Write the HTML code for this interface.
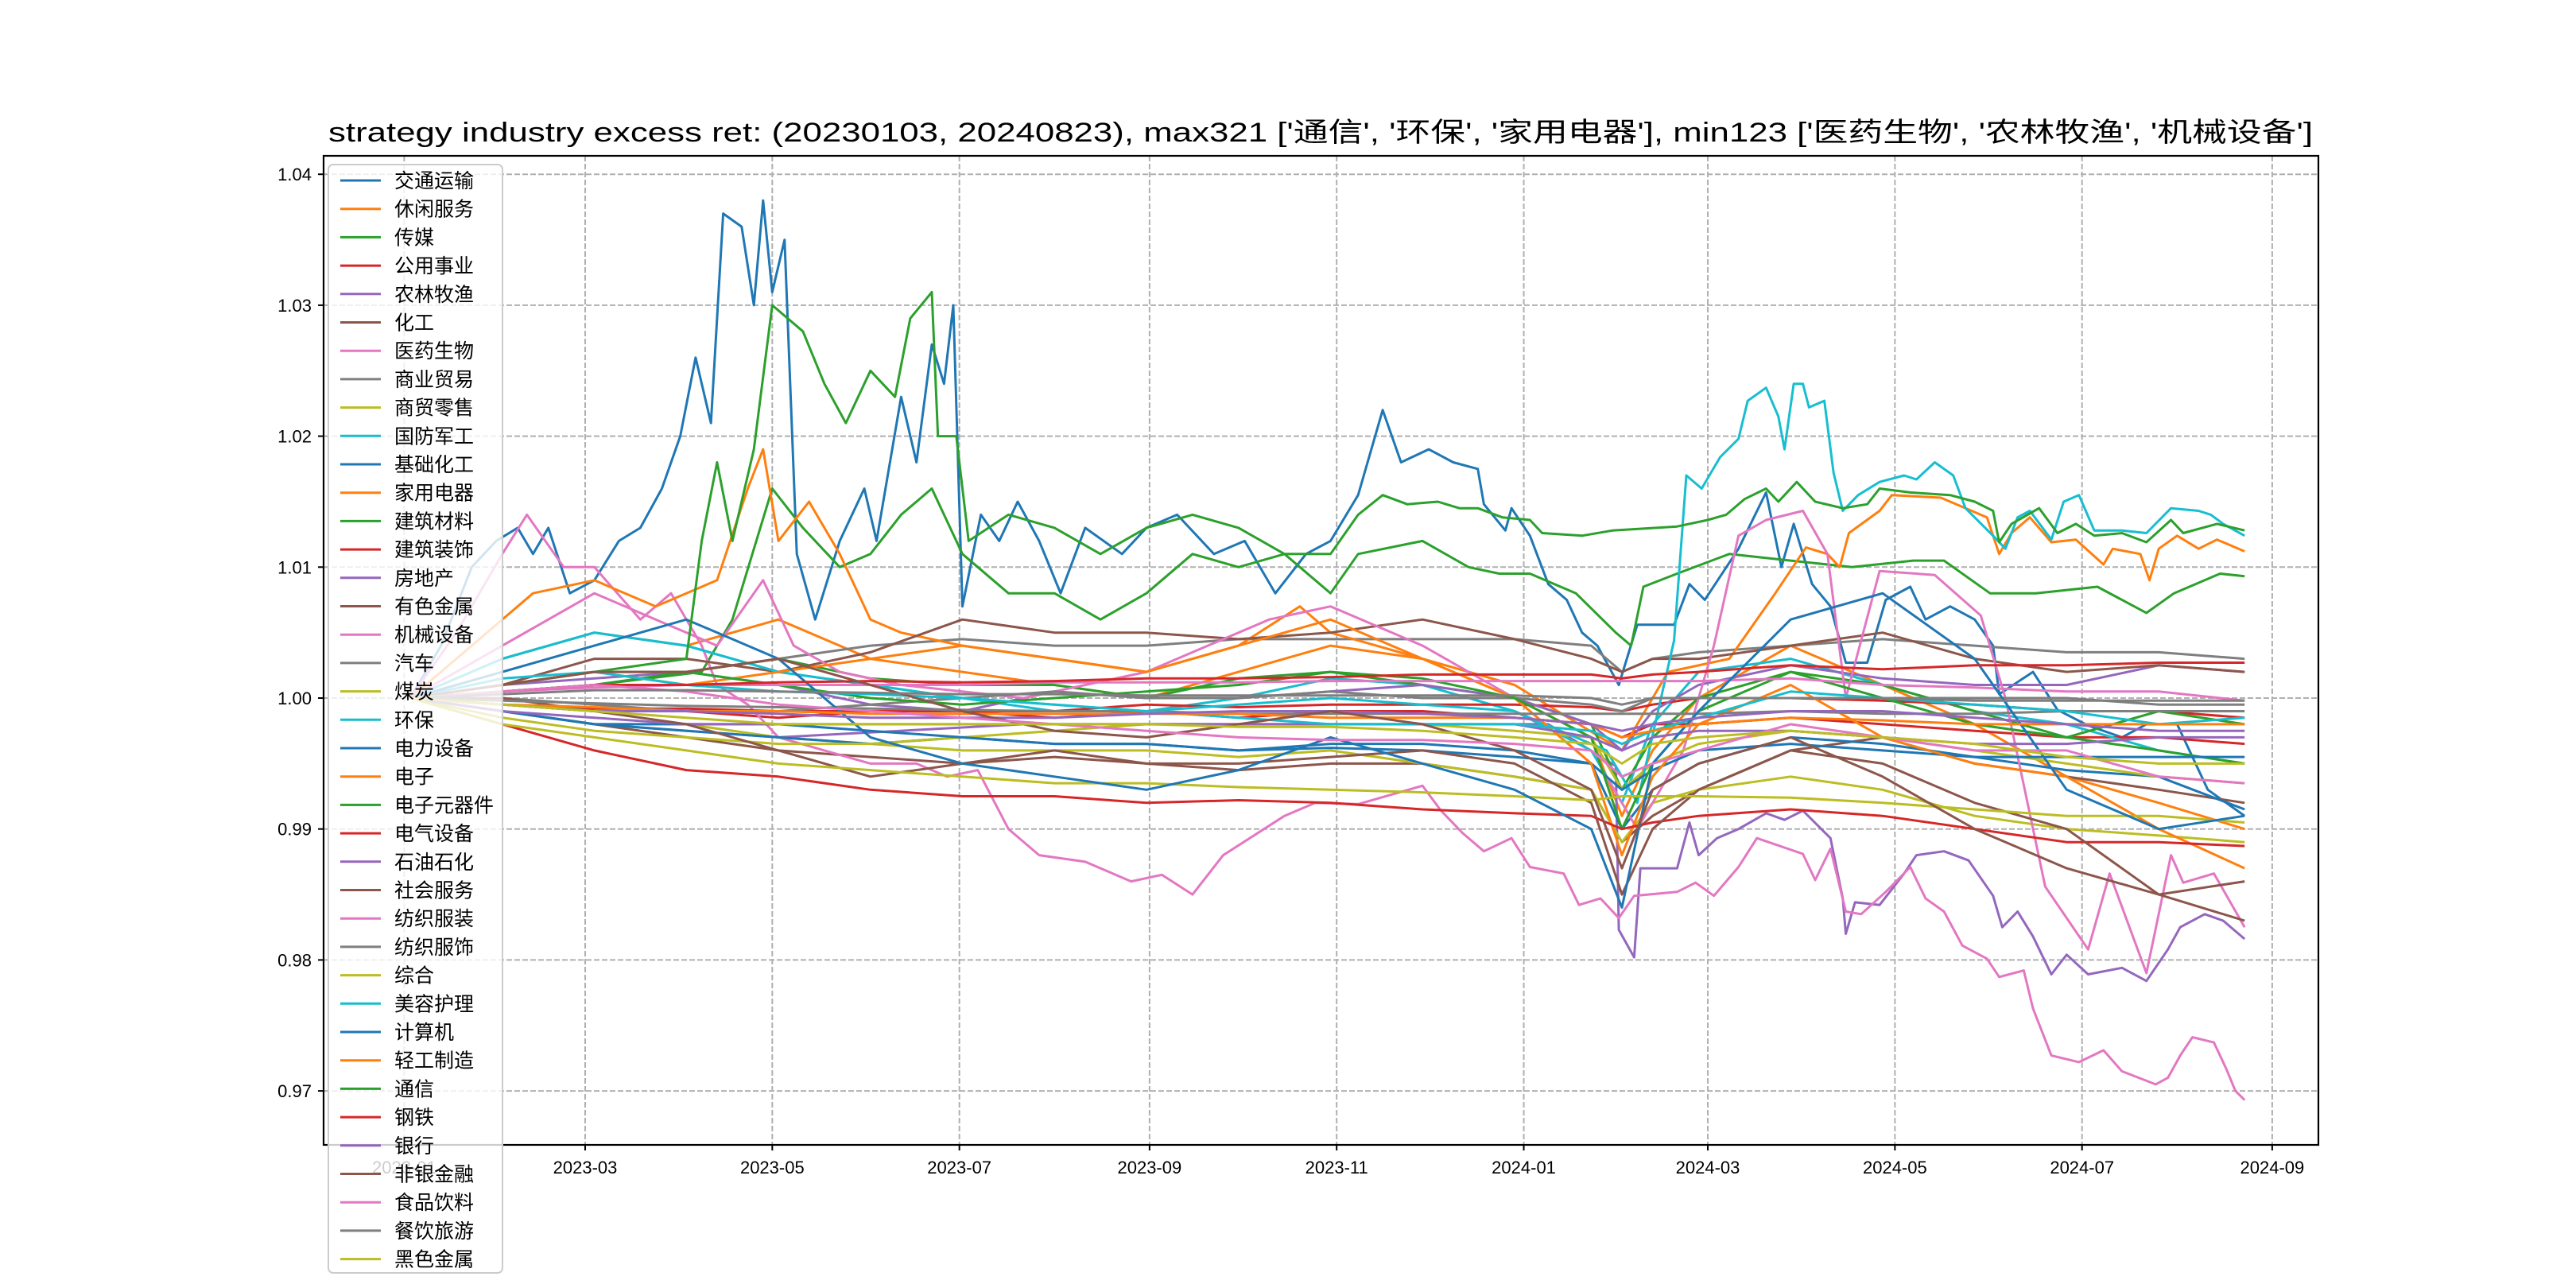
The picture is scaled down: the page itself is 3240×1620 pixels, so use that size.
<!DOCTYPE html>
<html><head><meta charset="utf-8"><style>
html,body{margin:0;padding:0;background:#fff}
svg{display:block}
text{font-family:"Liberation Sans","Noto Sans CJK SC",sans-serif}
</style></head><body>
<svg id="chart" width="3240" height="1620" viewBox="0 0 3240 1620" xmlns="http://www.w3.org/2000/svg">
<rect width="3240" height="1620" fill="#fff"/>
<text x="1661" y="178" text-anchor="middle" font-size="34" textLength="2496" lengthAdjust="spacingAndGlyphs">strategy industry excess ret: (20230103, 20240823), max321 ['通信', '环保', '家用电器'], min123 ['医药生物', '农林牧渔', '机械设备']</text>
<g id="grid"></g>
<g id="series"></g>
<rect x="407" y="196" width="2509" height="1244" fill="none" stroke="#000" stroke-width="2.2"/>
<g id="axes"></g>
<g id="legend"></g>
</svg>
<script>
const names = ['交通运输','休闲服务','传媒','公用事业','农林牧渔','化工','医药生物','商业贸易','商贸零售','国防军工','基础化工','家用电器','建筑材料','建筑装饰','房地产','有色金属','机械设备','汽车','煤炭','环保','电力设备','电子','电子元器件','电气设备','石油石化','社会服务','纺织服装','纺织服饰','综合','美容护理','计算机','轻工制造','通信','钢铁','银行','非银金融','食品饮料','餐饮旅游','黑色金属'];
const colors = ['#1f77b4','#ff7f0e','#2ca02c','#d62728','#9467bd','#8c564b','#e377c2','#7f7f7f','#bcbd22','#17becf'];
const yTicks = [0.97,0.98,0.99,1.00,1.01,1.02,1.03,1.04];
const xTickLabels = ['2023-01','2023-03','2023-05','2023-07','2023-09','2023-11','2024-01','2024-03','2024-05','2024-07','2024-09'];
const xTickDays = [-2,57,118,179,241,302,363,423,484,545,607];
// shared coarse grid (days since 2023-01-03)
const coarseDays = [0,30,60,90,120,150,180,210,240,270,300,330,360,385,395,405,420,450,480,510,540,570,598];
// detailed series: day arrays + value arrays
const days0 = [0,10,20,28,35,40,45,52,60,68,75,82,88,93,98,102,108,112,115,118,122,126,132,140,148,152,160,165,170,174,177,180,186,192,198,205,212,220,232,240,250,262,272,282,292,300,309,317,323,332,340,348,350,357,359,365,371,377,382,387,394,400,412,417,422,433,442,447,451,457,463,468,475,481,489,494,502,510,516,518,529,537,547,558,566,576,586,598];
const vals0 = [1,1.004,1.01,1.012,1.013,1.011,1.013,1.008,1.009,1.012,1.013,1.016,1.02,1.026,1.021,1.037,1.036,1.03,1.038,1.031,1.035,1.011,1.006,1.012,1.016,1.012,1.023,1.018,1.027,1.024,1.030,1.007,1.014,1.012,1.015,1.012,1.008,1.013,1.011,1.013,1.014,1.011,1.012,1.008,1.011,1.012,1.0155,1.022,1.018,1.019,1.018,1.0175,1.0148,1.0128,1.0145,1.0124,1.0087,1.0075,1.005,1.004,1.001,1.0056,1.0056,1.0087,1.0075,1.0114,1.0157,1.01,1.0133,1.0087,1.007,1.0027,1.0027,1.0075,1.0085,1.006,1.007,1.006,1.004,1.0003,1.002,0.9991,0.9979,0.997,0.998,0.998,0.993,0.991];
const days2 = [0,60,95,105,118,128,140,150,160,170,180,195,210,225,240,255,270,285,300,309,330,345,355,365,380,393,398,402,413,430,450,470,490,500,515,530,550,566,575,590,598];
const vals2 = [1,1.001,1.002,1.006,1.016,1.013,1.01,1.011,1.014,1.016,1.011,1.008,1.008,1.006,1.008,1.011,1.010,1.011,1.008,1.011,1.012,1.010,1.0095,1.0095,1.008,1.005,1.004,1.0085,1.0095,1.011,1.0105,1.010,1.0105,1.0105,1.008,1.008,1.0085,1.0065,1.008,1.0095,1.0093];
const days4 = [0,60,120,200,309,371,393,394,399,401,413,417,420,426,433,442,448,454,463,467,468,471,479,487,491,500,508,516,519,524,529,535,540,547,558,566,573,577,585,591,598];
const vals4 = [1,0.998,0.997,0.998,0.998,0.998,0.9948,0.9823,0.9802,0.987,0.987,0.9905,0.988,0.9893,0.99,0.9912,0.9907,0.9914,0.9893,0.9847,0.982,0.9844,0.9842,0.9866,0.988,0.9883,0.9876,0.9849,0.9825,0.9837,0.9818,0.9789,0.9804,0.9789,0.9794,0.9784,0.9808,0.9825,0.9835,0.983,0.9816];
const days6 = [0,15,30,38,50,60,75,85,95,100,110,120,135,150,165,175,185,195,205,220,235,245,255,265,285,295,309,330,336,343,350,359,365,376,381,388,394,399,413,419,425,433,439,454,458,463,468,473,481,489,494,500,506,514,518,526,529,535,544,552,558,569,573,577,581,588,592,595,598];
const vals6 = [1,1.005,1.011,1.014,1.01,1.01,1.006,1.008,1.004,1.001,0.9995,0.997,0.996,0.995,0.995,0.994,0.9945,0.990,0.988,0.9875,0.986,0.9865,0.985,0.988,0.991,0.992,0.9919,0.9933,0.9914,0.9897,0.9883,0.9893,0.9871,0.9866,0.9842,0.9847,0.9832,0.9849,0.9852,0.9859,0.9849,0.9871,0.9893,0.9881,0.9861,0.9885,0.9837,0.9835,0.9852,0.9871,0.9847,0.9837,0.9811,0.9801,0.9787,0.9792,0.9763,0.9727,0.9722,0.9731,0.9715,0.9705,0.9710,0.9727,0.9741,0.9737,0.9717,0.9700,0.9693];
const days11 = [0,20,40,60,80,100,110,115,120,130,140,150,160,180,210,240,270,290,300,330,360,395,410,430,445,455,462,466,469,479,483,499,514,518,522,528,535,543,552,555,564,567,570,576,583,589,598];
const vals11 = [1,1.004,1.008,1.009,1.007,1.009,1.016,1.019,1.012,1.015,1.011,1.006,1.005,1.004,1.003,1.002,1.004,1.007,1.005,1.003,1.001,0.996,1.002,1.003,1.008,1.0115,1.011,1.01,1.0126,1.0143,1.0155,1.0153,1.0138,1.011,1.0126,1.0138,1.0119,1.0121,1.0102,1.0114,1.011,1.009,1.0114,1.0124,1.0114,1.0121,1.0112];
const days16 = [0,30,60,80,100,115,125,140,160,200,240,280,300,330,360,390,400,415,425,433,442,454,462,468,479,497,512,520,533,547,554,566,574,578,588,598];
const vals16 = [1,1.004,1.008,1.006,1.004,1.009,1.004,1.002,1.001,1.0,1.002,1.006,1.007,1.004,1.0,0.994,0.99,0.996,1.004,1.0124,1.0136,1.0143,1.011,1.0,1.0097,1.0094,1.0063,1.0,0.9856,0.9808,0.9866,0.979,0.988,0.9859,0.9866,0.9825];
const days19 = [0,30,60,90,120,150,180,240,300,360,390,400,412,416,421,427,433,436,442,446,448,451,454,456,461,464,467,472,479,487,491,497,503,507,516,520,524,528,535,539,544,549,558,566,574,583,587,591,598];
const vals19 = [1,1.003,1.005,1.004,1.002,1.001,1.0,0.999,1.0,0.999,0.996,0.992,1.0044,1.017,1.016,1.0184,1.0198,1.0227,1.0237,1.0215,1.019,1.024,1.024,1.0222,1.0227,1.0172,1.0143,1.0155,1.0165,1.017,1.0167,1.018,1.017,1.0145,1.0124,1.0114,1.0138,1.0143,1.0121,1.015,1.0155,1.0128,1.0128,1.0126,1.0145,1.0143,1.014,1.0133,1.0124];
const days32 = [0,60,90,95,100,105,112,118,128,135,142,150,158,163,170,172,178,182,195,210,225,240,255,270,285,300,309,317,325,335,342,348,356,365,369,382,392,413,423,429,435,442,446,452,458,467,475,479,489,502,510,516,518,522,531,537,543,549,558,566,574,578,589,598];
const vals32 = [1,1.002,1.003,1.012,1.018,1.012,1.019,1.030,1.028,1.024,1.021,1.025,1.023,1.029,1.031,1.020,1.020,1.012,1.014,1.013,1.011,1.013,1.014,1.013,1.011,1.011,1.014,1.0155,1.0148,1.015,1.0145,1.0145,1.0138,1.0136,1.0126,1.0124,1.0128,1.0131,1.0136,1.014,1.0152,1.016,1.015,1.0165,1.015,1.0145,1.0148,1.016,1.0157,1.0155,1.015,1.0143,1.0119,1.0133,1.0145,1.0126,1.0133,1.0124,1.0126,1.0119,1.0136,1.0126,1.0133,1.0128];
// coarse series values (on coarseDays)
const vals1  = [1,1.003,1.005,1.004,1.006,1.003,1.002,1.001,1.0,1.002,1.004,1.003,1.0,0.997,0.991,0.996,1.0,1.004,1.001,0.998,0.994,0.992,0.990];
const vals3  = [1,0.9995,0.999,0.999,0.9985,0.999,0.999,0.9985,0.999,0.9985,0.999,0.999,0.9985,0.998,0.997,0.998,0.998,0.9985,0.998,0.9975,0.997,0.997,0.9965];
const vals5  = [1,0.999,0.998,0.997,0.996,0.9955,0.995,0.9955,0.995,0.9945,0.995,0.995,0.994,0.993,0.989,0.991,0.993,0.996,0.997,0.995,0.994,0.993,0.992];
const vals7  = [1,1.0005,1.001,1.002,1.003,1.004,1.0045,1.004,1.004,1.0045,1.0045,1.0045,1.0045,1.004,1.002,1.003,1.0035,1.004,1.0045,1.004,1.0035,1.0035,1.003];
const vals8  = [1,0.999,0.998,0.998,0.997,0.9965,0.996,0.996,0.996,0.9955,0.996,0.995,0.994,0.993,0.989,0.992,0.993,0.994,0.993,0.991,0.990,0.9895,0.989];
const vals9  = [1,1.003,1.005,1.004,1.002,1.001,1.0,0.999,0.999,1.0,1.0015,1.001,0.999,0.996,0.992,0.998,1.002,1.003,1.001,0.999,0.998,0.996,0.995];
const vals10 = [1,0.999,0.998,0.9975,0.997,0.9965,0.997,0.9965,0.9965,0.996,0.9965,0.9965,0.996,0.995,0.990,0.993,0.995,0.997,0.9965,0.9955,0.9945,0.994,0.9915];
const vals12 = [1,1.001,1.002,1.002,1.003,1.0015,1.001,1.001,1.0,1.0015,1.002,1.001,1.0,0.998,0.993,0.997,1.0,1.002,1.001,0.999,0.997,0.996,0.995];
const vals13 = [1,0.9995,0.9992,0.9992,0.999,0.999,0.999,0.999,0.9995,0.9993,0.9995,0.9995,0.9995,0.9993,0.999,0.9995,1.0,1.0,0.9998,0.9995,0.999,0.999,0.9985];
const vals14 = [1,1.001,1.0015,1.002,1.001,0.9995,0.999,1.0005,1.0,1.0,1.0005,1.001,1.0,0.998,0.996,0.999,1.001,1.0025,1.0015,1.001,1.001,1.0025,1.002];
const vals15 = [1,1.001,1.003,1.003,1.002,1.0035,1.006,1.005,1.005,1.0045,1.005,1.006,1.0045,1.003,1.002,1.003,1.003,1.004,1.005,1.003,1.002,1.0025,1.002];
const vals17 = [1,1.0,0.9995,0.999,0.999,0.9995,1.0,1.0005,1.0,1.0,1.0005,1.0,1.0,0.9995,0.999,1.0,1.0,1.0,1.0,1.0,1.0,0.9995,0.9995];
const vals18 = [1,0.9985,0.9975,0.997,0.9965,0.9965,0.997,0.9975,0.998,0.998,0.998,0.998,0.9975,0.997,0.993,0.995,0.9965,0.9975,0.997,0.996,0.995,0.994,0.9935];
const vals20 = [1,0.999,0.998,0.998,0.998,0.9975,0.997,0.9965,0.9965,0.996,0.9962,0.996,0.9955,0.995,0.993,0.9945,0.996,0.9965,0.996,0.9955,0.9955,0.9955,0.9955];
const vals21 = [1,1.001,1.002,1.001,1.002,1.003,1.004,1.003,1.002,1.004,1.006,1.003,1.0,0.995,0.988,0.994,0.998,1.001,0.997,0.995,0.994,0.990,0.987];
const vals22 = [1,1.0005,1.001,1.002,1.001,1.0,0.9995,1.0,1.0005,1.001,1.002,1.0015,1.0,0.997,0.990,0.995,0.999,1.002,1.0,0.998,0.997,0.999,0.998];
const vals23 = [1,0.998,0.996,0.9945,0.994,0.993,0.9925,0.9925,0.992,0.9922,0.992,0.9915,0.9912,0.991,0.990,0.9905,0.991,0.9915,0.991,0.990,0.989,0.989,0.9887];
const vals24 = [1,0.999,0.9985,0.998,0.998,0.998,0.998,0.998,0.998,0.998,0.998,0.998,0.998,0.997,0.996,0.997,0.9975,0.9975,0.997,0.9965,0.9965,0.997,0.997];
const vals25 = [1,1.0,0.999,0.998,0.996,0.994,0.995,0.996,0.995,0.995,0.9955,0.996,0.995,0.992,0.985,0.990,0.993,0.996,0.995,0.992,0.99,0.985,0.986];
const vals26 = [1,1.0005,1.0008,1.001,1.001,1.001,1.001,1.0012,1.0012,1.0012,1.0013,1.0013,1.0013,1.0013,1.0013,1.0013,1.0013,1.0015,1.001,1.0008,1.0005,1.0005,0.9998];
const vals27 = [1,0.9998,0.9996,0.9994,0.9993,0.9992,0.9991,0.999,0.999,0.9988,0.9988,0.9988,0.9988,0.9988,0.9988,0.9988,0.9988,0.999,0.9988,0.9988,0.999,0.999,0.999];
const vals28 = [1,0.998,0.997,0.996,0.995,0.9945,0.994,0.9935,0.9935,0.9932,0.993,0.9928,0.9925,0.9922,0.9925,0.9925,0.9925,0.9924,0.992,0.9915,0.991,0.991,0.9905];
const vals29 = [1,1.0015,1.002,1.001,1.0005,1.0003,1.0,0.9995,0.999,0.9985,0.998,0.998,0.998,0.9975,0.9965,0.9975,0.9985,1.0005,1.0,0.9995,0.999,0.998,0.9985];
const vals30 = [1,1.002,1.004,1.006,1.003,0.997,0.995,0.994,0.993,0.9945,0.997,0.995,0.993,0.990,0.984,0.995,0.999,1.006,1.008,1.003,0.993,0.990,0.991];
const vals31 = [1,0.9995,0.9993,0.999,0.999,0.9988,0.9988,0.9988,0.9988,0.9988,0.9985,0.9985,0.9985,0.998,0.997,0.9975,0.998,0.9985,0.9983,0.998,0.998,0.998,0.998];
const vals33 = [1,1.0005,1.001,1.001,1.0012,1.0013,1.0012,1.0013,1.0015,1.0015,1.0016,1.0018,1.0018,1.0018,1.0015,1.0018,1.002,1.0025,1.0022,1.0025,1.0025,1.0027,1.0027];
const vals34 = [1,0.9995,0.999,0.999,0.9988,0.9985,0.9985,0.9985,0.9988,0.999,0.999,0.9988,0.9985,0.998,0.9975,0.998,0.9985,0.999,0.999,0.9985,0.998,0.9975,0.9975];
const vals35 = [1,1.001,1.002,1.002,1.003,1.001,0.999,0.9975,0.997,0.998,0.999,0.998,0.996,0.993,0.987,0.993,0.995,0.997,0.994,0.990,0.987,0.985,0.983];
const vals36 = [1,1.0005,1.001,1.0005,0.9995,0.999,0.9985,0.998,0.9975,0.997,0.9968,0.9968,0.9965,0.996,0.994,0.995,0.996,0.998,0.997,0.996,0.996,0.994,0.9935];
const vals37 = [1,1.0003,1.0006,1.0006,1.0005,1.0004,1.0003,1.0003,1.0002,1.0002,1.0002,1.0002,1.0002,1.0,0.9995,1.0,1.0,1.0,1.0,0.9998,0.9998,0.9998,0.9998];
const vals38 = [1,0.9995,0.999,0.9985,0.998,0.998,0.998,0.998,0.998,0.9978,0.9978,0.9975,0.997,0.9965,0.995,0.9965,0.997,0.9975,0.997,0.9965,0.9955,0.995,0.995];

const seriesData = [
 [days0,vals0],[coarseDays,vals1],[days2,vals2],[coarseDays,vals3],[days4,vals4],[coarseDays,vals5],[days6,vals6],[coarseDays,vals7],[coarseDays,vals8],[coarseDays,vals9],
 [coarseDays,vals10],[days11,vals11],[coarseDays,vals12],[coarseDays,vals13],[coarseDays,vals14],[coarseDays,vals15],[days16,vals16],[coarseDays,vals17],[coarseDays,vals18],[days19,vals19],
 [coarseDays,vals20],[coarseDays,vals21],[coarseDays,vals22],[coarseDays,vals23],[coarseDays,vals24],[coarseDays,vals25],[coarseDays,vals26],[coarseDays,vals27],[coarseDays,vals28],[coarseDays,vals29],
 [coarseDays,vals30],[coarseDays,vals31],[days32,vals32],[coarseDays,vals33],[coarseDays,vals34],[coarseDays,vals35],[coarseDays,vals36],[coarseDays,vals37],[coarseDays,vals38]
];

const NS='http://www.w3.org/2000/svg';
function xOf(d){return 736+(d-57)*3.858;}
function yOf(v){return 878-(v-1)*16470;}
function mk(tag,attrs,parent){const e=document.createElementNS(NS,tag);for(const k in attrs)e.setAttribute(k,attrs[k]);parent.appendChild(e);return e;}
const gGrid=document.getElementById('grid'),gSer=document.getElementById('series'),gAx=document.getElementById('axes'),gLeg=document.getElementById('legend');

yTicks.forEach(v=>{
  const y=yOf(v);
  const gl=mk('line',{x1:407,x2:2916,y1:y,y2:y,stroke:'#b0b0b0','stroke-width':2,'stroke-dasharray':'7,3'},gGrid);
  
  
  const tk=mk('line',{x1:400,x2:407,y1:y,y2:y,stroke:'#000','stroke-width':2},gAx);
  
  
  const t=mk('text',{x:392,y:y+8,'text-anchor':'end','font-size':22},gAx);
  t.textContent=v.toFixed(2);
  
  
});
xTickLabels.forEach((lab,i)=>{
  const x=xOf(xTickDays[i]);
  const gl=mk('line',{x1:x,x2:x,y1:196,y2:1440,stroke:'#b0b0b0','stroke-width':2,'stroke-dasharray':'7,3'},gGrid);
  
  
  const tk=mk('line',{x1:x,x2:x,y1:1440,y2:1447,stroke:'#000','stroke-width':2},gAx);
  
  
  const t=mk('text',{x:x,y:1476,'text-anchor':'middle','font-size':22},gAx);
  t.textContent=lab;
  
  
});

seriesData.forEach((s,i)=>{
  const [ds,vs]=s;
  let p='';
  ds.forEach((d,j)=>{p+=(j?'L':'M')+xOf(d).toFixed(1)+','+yOf(vs[j]).toFixed(1);});
  const path=mk('path',{d:p,fill:'none',stroke:colors[i%10],'stroke-width':3,'stroke-linejoin':'round'},gSer);
  
  
});

const frame=mk('rect',{x:413,y:207,width:219,height:1394,rx:6,fill:'#fff','fill-opacity':0.8,stroke:'#cccccc','stroke-width':2},gLeg);


names.forEach((n,i)=>{
  const y=227+i*35.7;
  const ln=mk('line',{x1:428,x2:479,y1:y,y2:y,stroke:colors[i%10],'stroke-width':3},gLeg);
  
  
  const t=mk('text',{x:496,y:y+9,'font-size':25},gLeg);
  t.textContent=n;
  
  
});
</script>
</body></html>
